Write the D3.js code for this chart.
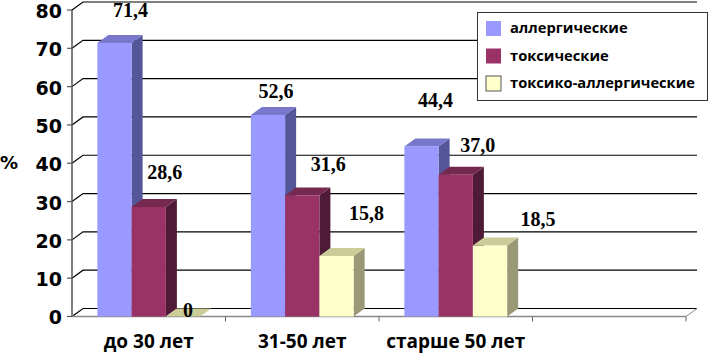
<!DOCTYPE html>
<html>
<head>
<meta charset="utf-8">
<script src="https://cdn.jsdelivr.net/npm/d3@7"></script>
<style>
  body { margin: 0; background: #fff; }
  #chart { width: 709px; height: 353px; }
</style>
</head>
<body>
<div id="chart"></div>
<script>
// categories (4th slot is empty in the original)
const categories = ["до 30 лет", "31-50 лет", "старше 50 лет", ""];
const seriesNames = ["аллергические", "токсические", "токсико-аллергические"];
const allergic = [71.4, 52.6, 44.4];
const toxic = [28.6, 31.6, 37.0];
const toxAllergic = [0, 15.8, 18.5];
const valueLabels = [["71,4", "52,6", "44,4"], ["28,6", "31,6", "37,0"], ["0", "15,8", "18,5"]];
const yTicks = [0, 10, 20, 30, 40, 50, 60, 70, 80];

// label nudges (px) relative to bar centre / bar top, hand placed like in the source
const labelNudge = [
    [[16, -26], [8, -17], [14, -39]],
    [[16, -28], [26, -24], [22, -23]],
    [[5, 0], [30, -36], [48, -20]]
];

const width = 709, height = 353;
const front = { left: 72, right: 686, top: 10, bottom: 316.5 };
const depth = { dx: 11, dy: -8 };

const colors = [
    { front: "#9999ff", side: "#555599", top: "#7777cc" },
    { front: "#993366", side: "#4f1a35", top: "#75294f" },
    { front: "#ffffcc", side: "#999977", top: "#cccc99" }
];

const svg = d3.select("#chart").append("svg")
    .attr("width", width)
    .attr("height", height);

const x = d3.scaleBand().domain(categories).range([front.left, front.right]).paddingInner(0).paddingOuter(0);
const xs = d3.scaleBand().domain(seriesNames).range([0, x.bandwidth()]).paddingInner(0).paddingOuter(0.74);
const y = d3.scaleLinear().domain([0, 80]).range([front.bottom, front.top]);

// back wall gridlines + left wall diagonals
const grid = svg.append("g");
yTicks.forEach(t => {
    const yy = y(t);
    grid.append("path")
        .attr("d", `M${front.left},${yy}L${front.left + depth.dx},${yy + depth.dy}L${front.right + depth.dx},${yy + depth.dy}`)
        .attr("fill", "none")
        .attr("stroke", "#000")
        .attr("stroke-width", 1.2);
});

// front axes
svg.append("line")
    .attr("x1", front.left).attr("x2", front.left)
    .attr("y1", y(80)).attr("y2", front.bottom)
    .attr("stroke", "#555").attr("stroke-width", 1.5);
svg.append("line")
    .attr("x1", front.left).attr("x2", front.right)
    .attr("y1", front.bottom).attr("y2", front.bottom)
    .attr("stroke", "#888").attr("stroke-width", 1.5);
svg.append("line")
    .attr("x1", front.right).attr("x2", front.right + depth.dx)
    .attr("y1", front.bottom).attr("y2", front.bottom + depth.dy)
    .attr("stroke", "#888").attr("stroke-width", 1);

// y ticks
yTicks.forEach(t => {
    svg.append("line")
        .attr("x1", front.left - 5).attr("x2", front.left)
        .attr("y1", y(t)).attr("y2", y(t))
        .attr("stroke", "#555").attr("stroke-width", 1.2);
    svg.append("text")
        .attr("x", 62)
        .attr("y", y(t))
        .attr("dy", "0.42em")
        .attr("text-anchor", "end")
        .style("font-family", "'DejaVu Sans', sans-serif")
        .style("font-weight", "bold")
        .style("font-size", "19px")
        .text(t);
});

// category ticks
categories.forEach(c => {
    const xx = x(c) + x.bandwidth();
    svg.append("line")
        .attr("x1", xx).attr("x2", xx)
        .attr("y1", front.bottom).attr("y2", front.bottom + 5)
        .attr("stroke", "#666").attr("stroke-width", 1);
});

// category labels
categories.forEach(c => {
    svg.append("text")
        .attr("x", x(c) + x.bandwidth() / 2)
        .attr("y", 348)
        .attr("text-anchor", "middle")
        .style("font-family", "'Open Sans', sans-serif")
        .style("font-weight", "bold")
        .style("font-size", "19px")
        .text(c);
});

// y axis title
svg.append("text")
    .attr("x", 0)
    .attr("y", 169)
    .style("font-family", "'DejaVu Sans', sans-serif")
    .style("font-weight", "bold")
    .style("font-size", "18px")
    .text("%");

// 3D bars
const seriesValues = [allergic, toxic, toxAllergic];
const bars = svg.append("g");
categories.slice(0, 3).forEach((c, ci) => {
    seriesNames.forEach((s, si) => {
        const v = seriesValues[si][ci];
        const x0 = x(c) + xs(s);
        const x1 = x0 + xs.bandwidth();
        const yt = y(v);
        const yb = y(0);
        const col = colors[si];
        const { dx, dy } = depth;
        bars.append("path")
            .attr("d", `M${x1},${yt}L${x1 + dx},${yt + dy}L${x1 + dx},${yb + dy}L${x1},${yb}Z`)
            .attr("fill", col.side);
        bars.append("path")
            .attr("d", `M${x0},${yt}L${x0 + dx},${yt + dy}L${x1 + dx},${yt + dy}L${x1},${yt}Z`)
            .attr("fill", col.top);
        bars.append("rect")
            .attr("x", x0)
            .attr("y", yt)
            .attr("width", xs.bandwidth())
            .attr("height", yb - yt)
            .attr("fill", col.front);
    });
});

// value labels
categories.slice(0, 3).forEach((c, ci) => {
    seriesNames.forEach((s, si) => {
        const v = seriesValues[si][ci];
        const n = labelNudge[si][ci];
        svg.append("text")
            .attr("x", x(c) + xs(s) + xs.bandwidth() / 2 + n[0])
            .attr("y", y(v) + n[1])
            .attr("text-anchor", "middle")
            .style("font-family", "'Liberation Serif', 'Times New Roman', serif")
            .style("font-weight", "bold")
            .style("font-size", "20px")
            .text(valueLabels[si][ci]);
    });
});

// legend
const legend = svg.append("g").attr("transform", "translate(477, 12)");
legend.append("rect")
    .attr("x", 0.5).attr("y", 0.5)
    .attr("width", 230).attr("height", 88)
    .attr("fill", "#fff")
    .attr("stroke", "#333")
    .attr("stroke-width", 1);
seriesNames.forEach((s, i) => {
    const row = legend.append("g").attr("transform", `translate(9, ${9 + i * 27.5})`);
    row.append("rect")
        .attr("width", 15).attr("height", 15)
        .attr("fill", colors[i].front)
        .attr("stroke", i === 2 ? "#555" : "none")
        .attr("stroke-width", 1);
    row.append("text")
        .attr("x", 24)
        .attr("y", 12)
        .style("font-family", "'Open Sans', sans-serif")
        .style("font-weight", "bold")
        .style("font-size", "14.7px")
        .text(s);
});
</script>
</body>
</html>
